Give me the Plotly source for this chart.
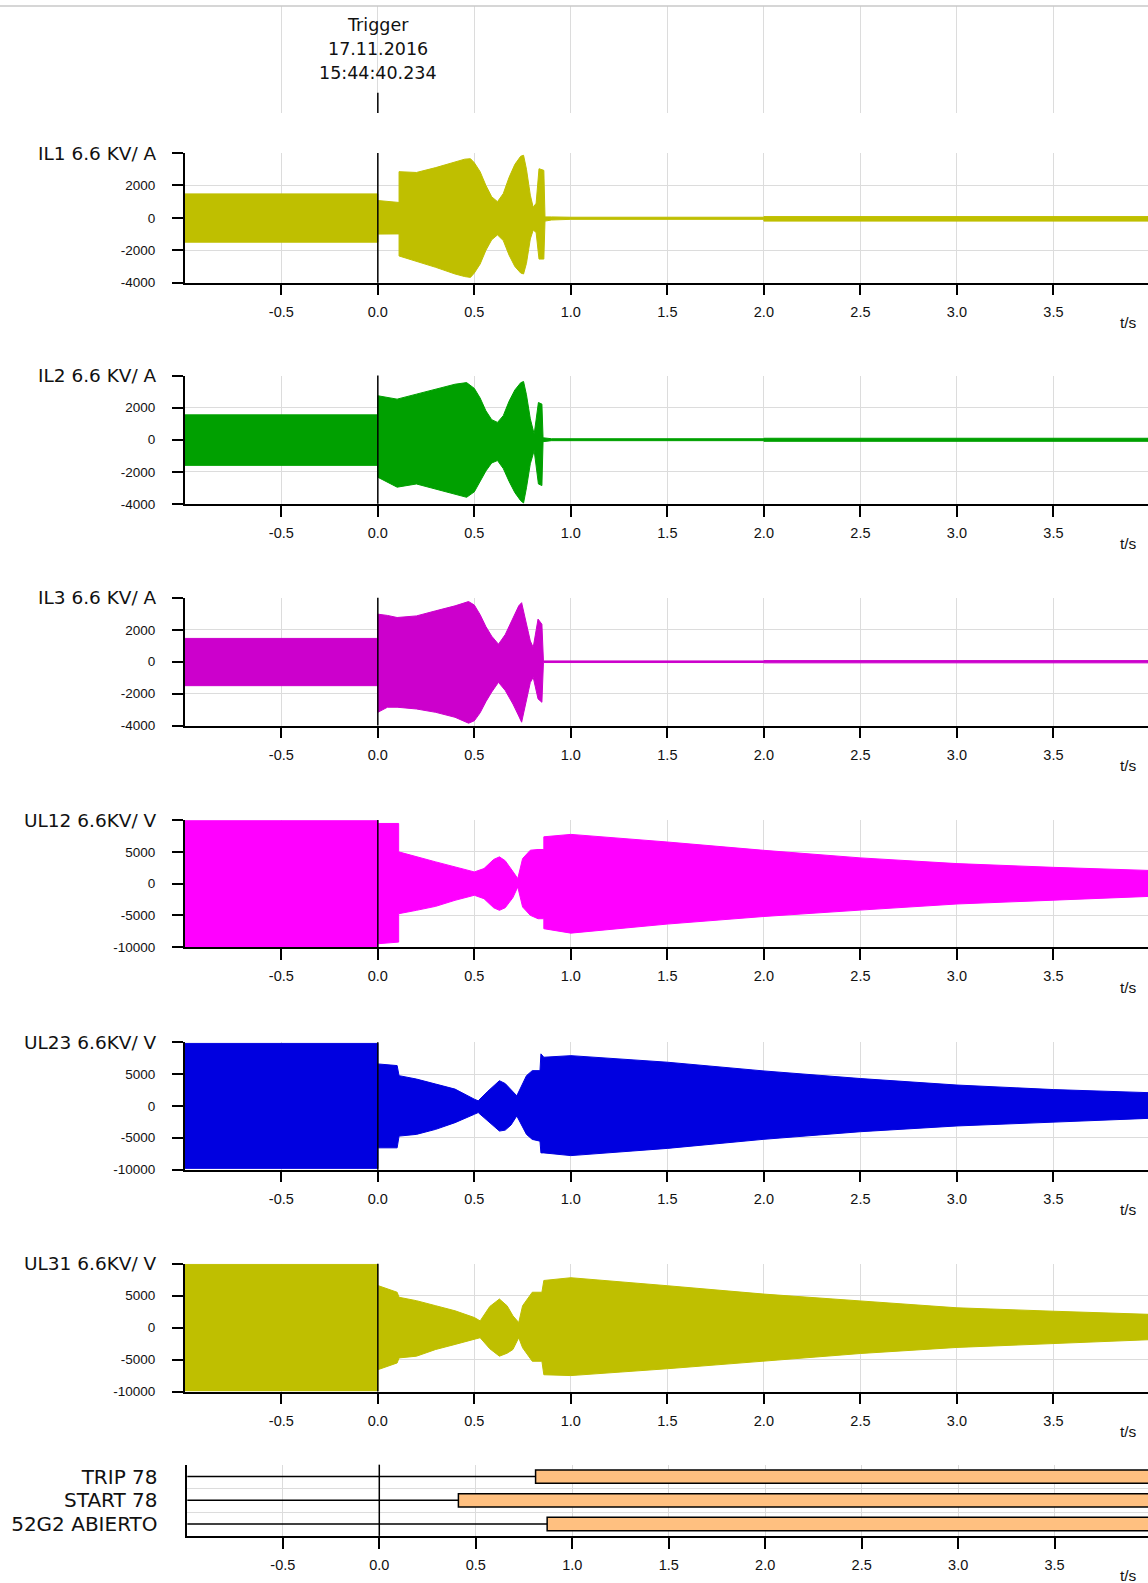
import plotly.graph_objects as go

# ---------------- data ----------------
record_start = -1.0
record_end = 3.99
trigger_time = 0.0
trigger_lines = ["Trigger", "17.11.2016", "15:44:40.234"]

time_ticks = [-0.5, 0.0, 0.5, 1.0, 1.5, 2.0, 2.5, 3.0, 3.5]
time_ticklabels = ["-0.5", "0.0", "0.5", "1.0", "1.5", "2.0", "2.5", "3.0", "3.5"]

current_ticks = [-4000, -2000, 0, 2000, 4000]
current_ticklabels = ["-4000", "-2000", "0", "2000", ""]
voltage_ticks = [-10000, -5000, 0, 5000, 10000]
voltage_ticklabels = ["-10000", "-5000", "0", "5000", ""]

channel_names = ["IL1 6.6 KV/ A", "IL2 6.6 KV/ A", "IL3 6.6 KV/ A",
                 "UL12 6.6KV/ V", "UL23 6.6KV/ V", "UL31 6.6KV/ V"]
channel_colors = ["#BFBF00", "#00A000", "#CC00CC", "#FF00FF", "#0000E0", "#BFBF00"]

# envelopes (upper / lower peak values) of each sampled channel
il1_t = [-1.0, 0.0, 0.0, 0.11, 0.11, 0.2, 0.3, 0.4, 0.45, 0.48, 0.5, 0.53, 0.56, 0.59, 0.62, 0.65, 0.68, 0.71,
         0.74, 0.755, 0.77, 0.79, 0.805, 0.82, 0.835, 0.86, 0.866, 0.9, 1.0, 2.0, 2.0, 3.99]
il1_upper = [1480, 1480, 1070, 950, 2850, 2800, 3100, 3440, 3620, 3650, 3400, 2850, 2000, 1300, 1000, 1500, 2500, 3300,
             3800, 3860, 3000, 1400, 650, 900, 3030, 2930, 60, 60, 40, 40, 80, 80]
il1_lower = [-1500, -1500, -1000, -990, -2350, -2700, -3050, -3460, -3620, -3670, -3400, -2850, -2000, -1350, -1050, -1400, -2300, -3000,
             -3400, -3460, -2800, -1300, -750, -900, -2540, -2540, -200, -130, -90, -90, -200, -200]

il2_t = [-1.0, 0.0, 0.0, 0.1, 0.2, 0.3, 0.4, 0.46, 0.5, 0.53, 0.56, 0.59, 0.62, 0.65, 0.68, 0.71, 0.74, 0.755,
         0.77, 0.79, 0.81, 0.832, 0.85, 0.856, 0.9, 2.0, 2.0, 3.99]
il2_upper = [1550, 1550, 2740, 2530, 2840, 3150, 3460, 3560, 3200, 2600, 1800, 1250, 1080, 1500, 2400, 3100, 3550, 3630,
             2800, 1300, 350, 2320, 2220, 120, 60, 60, 90, 90]
il2_lower = [-1600, -1600, -2340, -2960, -2760, -3070, -3400, -3590, -3250, -2650, -1950, -1450, -1300, -1800, -2600, -3300, -3800, -3950,
             -3000, -1500, -680, -2760, -2860, -120, -60, -60, -100, -100]

il3_t = [-1.0, 0.0, 0.0, 0.05, 0.1, 0.2, 0.3, 0.4, 0.47, 0.5, 0.53, 0.56, 0.59, 0.625, 0.66, 0.7, 0.73, 0.745,
         0.77, 0.79, 0.805, 0.83, 0.85, 0.858, 2.0, 2.0, 3.99]
il3_upper = [1460, 1460, 2980, 2900, 2770, 2870, 3190, 3500, 3770, 3550, 2950, 2200, 1600, 1100, 1700, 2770, 3500, 3700,
             2300, 1300, 900, 2670, 2350, 50, 50, 70, 70]
il3_lower = [-1500, -1500, -3170, -2850, -2850, -2960, -3170, -3480, -3850, -3700, -3200, -2500, -1900, -1290, -1800, -2650, -3400, -3790,
             -2400, -1300, -980, -2330, -2540, -50, -50, -70, -70]

ul12_t = [-1.0, 0.0, 0.0, 0.108, 0.108, 0.2, 0.3, 0.4, 0.5, 0.55, 0.6, 0.63, 0.66, 0.7, 0.725, 0.75, 0.79,
          0.83, 0.86, 0.86, 1.0, 1.5, 2.0, 2.5, 3.0, 3.5, 3.99]
ul12_upper = [9900, 9900, 9470, 9470, 5000, 4210, 3420, 2630, 1840, 2370, 3800, 4210, 3600, 1900, 790, 3950, 5260,
              5370, 5370, 7370, 7750, 6550, 5240, 4050, 3150, 2560, 2080]
ul12_lower = [-9900, -9900, -9470, -9210, -4740, -4210, -3580, -2630, -1840, -2370, -3800, -4210, -3800, -2200, -530, -3680, -5000,
              -5530, -5530, -7100, -7800, -6370, -5180, -4170, -3210, -2620, -2020]

ul23_t = [-1.0, 0.0, 0.0, 0.1, 0.11, 0.2, 0.3, 0.4, 0.5, 0.52, 0.57, 0.6, 0.63, 0.66, 0.69, 0.72, 0.77,
          0.8, 0.84, 0.845, 0.86, 1.0, 1.5, 2.0, 2.5, 3.0, 3.5, 3.99]
ul23_upper = [9800, 9800, 6580, 6320, 4740, 4210, 3420, 2630, 1050, 790, 2300, 3160, 3950, 3500, 2500, 1580, 4740,
              5530, 5530, 8160, 7630, 7880, 6850, 5480, 4290, 3270, 2560, 2080]
ul23_lower = [-9800, -9800, -6580, -6580, -4740, -4470, -3680, -2630, -1320, -1050, -2300, -3160, -3950, -3800, -3000, -1580, -4470,
              -5260, -5530, -7370, -7370, -7800, -6670, -5240, -4050, -3150, -2500, -1960]

ul31_t = [-1.0, 0.0, 0.0, 0.1, 0.11, 0.2, 0.3, 0.4, 0.5, 0.53, 0.58, 0.63, 0.67, 0.7, 0.73, 0.75, 0.8,
          0.85, 0.86, 1.0, 1.5, 2.0, 2.5, 3.0, 3.5, 3.99]
ul31_upper = [9900, 9900, 6580, 5530, 4740, 4210, 3420, 2630, 1580, 1050, 3300, 4470, 3400, 1840, 790, 3420, 5530,
              5530, 7370, 7800, 6550, 5240, 4170, 3100, 2560, 2080]
ul31_lower = [-9900, -9900, -6580, -5530, -4740, -4470, -3420, -2630, -1840, -1580, -3300, -4470, -4000, -3420, -1580, -3160, -5260,
              -5260, -7370, -7500, -6430, -5240, -4050, -3100, -2500, -1900]

digital_names = ["TRIP 78", "START 78", "52G2 ABIERTO"]
digital_on = [0.81, 0.41, 0.87]
digital_off = [4.1, 4.1, 4.1]

# ---------------- figure ----------------
W, H = 1148, 1583
K = 1.0052  # vertical calibration of pixel positions
FONT_XTICK = dict(family="Liberation Sans, Arial", size=14.5, color="#111111")
FONT_YTICK = dict(family="Liberation Sans, Arial", size=13.5, color="#111111")
FONT_LABEL = dict(family="DejaVu Sans", size=18.5, color="#111111")
GRID = "#DCDCDC"

series = [
    (il1_t, il1_upper, il1_lower, current_ticks, current_ticklabels),
    (il2_t, il2_upper, il2_lower, current_ticks, current_ticklabels),
    (il3_t, il3_upper, il3_lower, current_ticks, current_ticklabels),
    (ul12_t, ul12_upper, ul12_lower, voltage_ticks, voltage_ticklabels),
    (ul23_t, ul23_upper, ul23_lower, voltage_ticks, voltage_ticklabels),
    (ul31_t, ul31_upper, ul31_lower, voltage_ticks, voltage_ticklabels),
]

tops = [153.0, 375.5, 597.8, 820.0, 1042.0, 1263.5]
bottoms = [282.7, 503.8, 725.5, 947.0, 1169.5, 1391.4]
x_left = 184.8 / W


def py(y):
    return 1 - (y * K) / H


def ydom(top, bottom):
    return [py(bottom), py(top)]


fig = go.Figure()
layout = dict(width=W, height=H, autosize=False, margin=dict(l=0, r=0, t=0, b=0, pad=0),
              paper_bgcolor="white", plot_bgcolor="white", showlegend=False)
shapes = []
annotations = []


def axname(i):
    return "" if i == 1 else str(i)


for i, (t, up, lo, yt, ytl) in enumerate(series, start=1):
    s = axname(i)
    color = channel_colors[i - 1]
    fig.add_trace(go.Scatter(
        x=list(t) + list(t)[::-1], y=list(up) + list(lo)[::-1],
        fill="toself", fillcolor=color, mode="lines",
        line=dict(color=color, width=1), hoverinfo="skip",
        xaxis="x" + s, yaxis="y" + s))
    layout["xaxis" + s] = dict(
        domain=[x_left, 1], range=[record_start, record_end], anchor="y" + s,
        tickvals=time_ticks, ticktext=time_ticklabels, ticks="outside", ticklen=11,
        tickwidth=1.5, tickcolor="black", showline=True, linecolor="black", linewidth=1.5,
        showgrid=True, gridcolor=GRID, gridwidth=1, zeroline=False,
        tickfont=FONT_XTICK, ticklabelstandoff=4, fixedrange=True)
    layout["yaxis" + s] = dict(
        domain=ydom(tops[i - 1], bottoms[i - 1]), range=[yt[0], yt[-1]], anchor="x" + s,
        tickvals=yt, ticktext=ytl, ticks="outside", ticklen=11, tickwidth=1.5,
        tickcolor="black", showline=True, linecolor="black", linewidth=1.5,
        showgrid=True, gridcolor=GRID, gridwidth=1, zeroline=False,
        tickfont=FONT_YTICK, ticklabelstandoff=14, fixedrange=True)
    shapes.append(dict(type="line", xref="x" + s, yref="y" + s + " domain",
                       x0=trigger_time, x1=trigger_time, y0=0, y1=1,
                       line=dict(color="black", width=1.5), layer="above"))
    annotations.append(dict(text=channel_names[i - 1], xref="paper", x=158.5 / W,
                            xanchor="right", yref="y" + s, y=yt[-1], yanchor="middle",
                            showarrow=False, font=FONT_LABEL))
    annotations.append(dict(text="t/s", xref="paper", x=1128 / W, xanchor="center",
                            yref="y" + s + " domain", y=0, yanchor="middle", yshift=-40,
                            showarrow=False, font=dict(family="Liberation Sans, Arial", size=15.5, color="#111111")))

# ---- digital channels ----
rows = list(range(len(digital_names)))[::-1]
for name, row, on, off in zip(digital_names, rows, digital_on, digital_off):
    fig.add_trace(go.Scatter(x=[record_start, on], y=[row, row], mode="lines",
                             line=dict(color="black", width=1.5), hoverinfo="skip",
                             xaxis="x7", yaxis="y7"))
fig.add_trace(go.Bar(orientation="h", y=rows, x=[b - a for a, b in zip(digital_on, digital_off)],
                     base=digital_on, width=0.56,
                     marker=dict(color="#FFC080", line=dict(color="black", width=1.5)),
                     hoverinfo="skip", xaxis="x7", yaxis="y7"))
layout["xaxis7"] = dict(
    domain=[187.3 / W, 1], range=[-0.995, 3.984], anchor="y7",
    tickvals=time_ticks, ticktext=time_ticklabels, ticks="outside", ticklen=11,
    tickwidth=1.5, tickcolor="black", showline=True, linecolor="black", linewidth=1.5,
    showgrid=True, gridcolor=GRID, gridwidth=1, zeroline=False,
    tickfont=FONT_XTICK, ticklabelstandoff=4, fixedrange=True)
layout["yaxis7"] = dict(
    domain=ydom(1464.5, 1535.7), range=[-0.5, 2.5], anchor="x7",
    tickvals=rows, ticktext=digital_names, ticks="", showline=True, linecolor="black",
    linewidth=1.5, showgrid=False, zeroline=False,
    minor=dict(tickvals=[0.5, 1.5], showgrid=True, gridcolor=GRID, gridwidth=1, ticks=""),
    tickfont=dict(family="DejaVu Sans", size=20, color="#111111"),
    ticklabelstandoff=24, fixedrange=True)
shapes.append(dict(type="line", xref="x7", yref="y7 domain", x0=trigger_time, x1=trigger_time,
                   y0=0, y1=1, line=dict(color="black", width=1.5), layer="above"))
annotations.append(dict(text="t/s", xref="paper", x=1128 / W, xanchor="center",
                        yref="y7 domain", y=0, yanchor="middle", yshift=-40,
                        showarrow=False, font=dict(family="Liberation Sans, Arial", size=15.5, color="#111111")))

# ---- header (trigger) ----
layout["xaxis8"] = dict(domain=[x_left, 1], range=[record_start, record_end], anchor="y8",
                        tickvals=time_ticks, showticklabels=False, ticks="",
                        showline=False, showgrid=True, gridcolor=GRID, gridwidth=1,
                        zeroline=False, fixedrange=True)
layout["yaxis8"] = dict(domain=ydom(6.0, 113.0), range=[0, 1], anchor="x8",
                        showticklabels=False, ticks="", showline=False, showgrid=False,
                        zeroline=False, fixedrange=True)
fig.add_trace(go.Scatter(x=[None], y=[None], xaxis="x8", yaxis="y8", hoverinfo="skip"))
shapes.append(dict(type="line", xref="x8", yref="y8 domain", x0=trigger_time, x1=trigger_time,
                   y0=0, y1=0.19, line=dict(color="black", width=1.5), layer="above"))
shapes.append(dict(type="line", xref="paper", yref="paper", x0=0, x1=1,
                   y0=py(6), y1=py(6), line=dict(color="#C8C8C8", width=1.5)))
for txt, ypix in zip(trigger_lines, [25.2, 48.5, 72.7]):
    annotations.append(dict(text=txt, xref="x8", x=trigger_time, xanchor="center",
                            yref="paper", y=py(ypix), yanchor="middle", showarrow=False,
                            font=dict(family="DejaVu Sans", size=17.5, color="#111111")))

layout["shapes"] = shapes
layout["annotations"] = annotations
fig.update_layout(**layout)
fig.write_html("out.html",
               config={"displayModeBar": False, "responsive": False},
               post_script="document.body.style.margin='0px';document.body.style.overflow='hidden';")
